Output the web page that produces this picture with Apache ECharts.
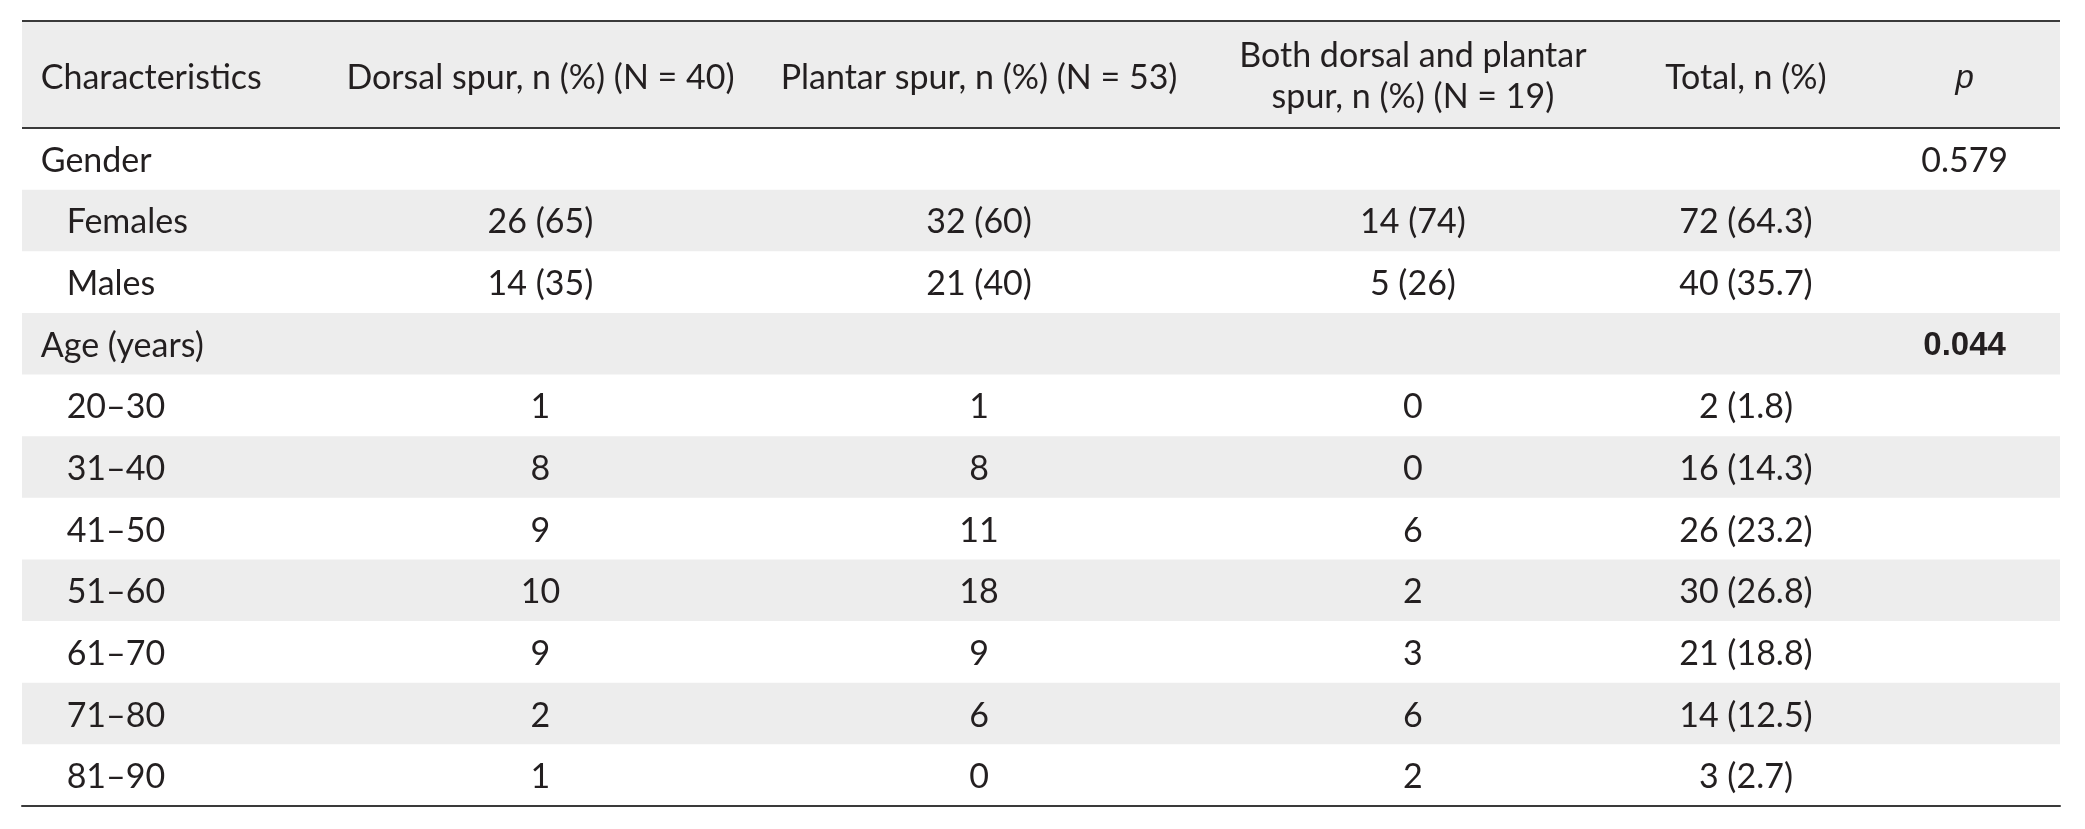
<!DOCTYPE html>
<html>
<head>
<meta charset="utf-8">
<script src="https://cdn.jsdelivr.net/npm/echarts@6/dist/echarts.min.js"></script>
<style>
html,body{margin:0;padding:0;background:#fff;}
#chart{width:2085px;height:829px;}
</style>
</head>
<body>
<div id="chart"></div>
<script>
// ---- data ----
const headers = ['Characteristics', 'Dorsal spur, n (%) (N = 40)', 'Plantar spur, n (%) (N = 53)', 'Both dorsal and plantar\nspur, n (%) (N = 19)', 'Total, n (%)', 'p'];
const rowLabels = ['Gender', 'Females', 'Males', 'Age (years)', '20–30', '31–40', '41–50', '51–60', '61–70', '71–80', '81–90'];
const rowIsGroup = [true, false, false, true, false, false, false, false, false, false, false];
const dorsal  = ['', '26 (65)', '14 (35)', '', '1', '8', '9', '10', '9', '2', '1'];
const plantar = ['', '32 (60)', '21 (40)', '', '1', '8', '11', '18', '9', '6', '0'];
const both    = ['', '14 (74)', '5 (26)', '', '0', '0', '6', '2', '3', '6', '2'];
const total   = ['', '72 (64.3)', '40 (35.7)', '', '2 (1.8)', '16 (14.3)', '26 (23.2)', '30 (26.8)', '21 (18.8)', '14 (12.5)', '3 (2.7)'];
const pValues = ['0.579', '', '', '0.044', '', '', '', '', '', '', ''];
const pBold   = [false, false, false, true, false, false, false, false, false, false, false];
const shaded  = [false, true, false, true, false, true, false, true, false, true, false];

// ---- layout / style ----
const GRID = {left: 22, right: 25, top: 128, bottom: 23};
const TABLE_TOP = 21;
const W = 2085;
const colPct = [0.92, 25.44, 46.96, 68.25, 84.59, 95.32]; // column anchor (% of table width)
const indentPct = 2.19;
const FAMILY = 'Lato';
const TEXT = '#231f20';
const BAND = '#ededed';
const RULE = '#3a3a3a';

function fit(text, family, target) {
  const c = document.createElement('canvas').getContext('2d');
  c.font = '100px ' + family;
  return 100 * target / c.measureText(text).width;
}
const FS = (fit('Characteristics', FAMILY, 219) + fit('Dorsal spur, n (%) (N = 40)', FAMILY, 392)) / 2;

// ---- cells ----
const cells = [];
const cols = [dorsal, plantar, both, total];
rowLabels.forEach((lab, i) => {
  cells.push({x: rowIsGroup[i] ? colPct[0] : indentPct, row: i, text: lab, align: 'left'});
  cols.forEach((arr, c) => {
    if (arr[i] !== '') cells.push({x: colPct[c + 1], row: i, text: arr[i], align: 'center'});
  });
  if (pValues[i] !== '') cells.push({x: colPct[5], row: i, text: pValues[i], align: 'center', bold: pBold[i]});
});

const chart = echarts.init(document.getElementById('chart'), null, {renderer: 'canvas'});

const tableW = W - GRID.left - GRID.right;
const px = p => GRID.left + tableW * p / 100;
const hdrMid = (TABLE_TOP + GRID.top) / 2 + 2;

const graphic = [
  {type: 'rect', shape: {x: GRID.left, y: TABLE_TOP, width: tableW, height: GRID.top - TABLE_TOP}, style: {fill: BAND}, z: 0},
  {type: 'line', shape: {x1: GRID.left, y1: TABLE_TOP, x2: GRID.left + tableW, y2: TABLE_TOP}, style: {stroke: RULE, lineWidth: 2}, z: 10},
  {type: 'line', shape: {x1: GRID.left, y1: GRID.top, x2: GRID.left + tableW, y2: GRID.top}, style: {stroke: RULE, lineWidth: 2}, z: 10}
];
headers.forEach((h, c) => {
  const isP = c === 5;
  const multi = h.indexOf('\n') >= 0;
  graphic.push({
    type: 'text', z: 10,
    style: {
      x: px(colPct[c]), y: hdrMid + (multi ? 0 : 2), text: h,
      align: c === 0 ? 'left' : 'center', verticalAlign: 'middle',
      fill: TEXT,
      fontFamily: isP ? 'Liberation Sans' : FAMILY,
      fontStyle: isP ? 'italic' : 'normal',
      fontSize: isP ? 33 : +FS.toFixed(1),
      lineHeight: 41
    }
  });
});

chart.setOption({
  animation: false,
  backgroundColor: '#fff',
  grid: GRID,
  xAxis: {type: 'value', min: 0, max: 100, show: true, position: 'bottom',
    axisLine: {show: true, onZero: false, lineStyle: {color: RULE, width: 2}},
    axisTick: {show: false}, axisLabel: {show: false}, splitLine: {show: false}},
  yAxis: {type: 'category', data: rowLabels, inverse: true, boundaryGap: true, show: false},
  graphic: graphic,
  series: [
    {
      type: 'custom', z: 1, silent: true,
      data: rowLabels.map((r, i) => [0, i]),
      renderItem: function (params, api) {
        const i = params.dataIndex;
        if (!shaded[i]) return {type: 'group', children: []};
        const a = api.coord([0, i]);
        const b = api.coord([100, i]);
        const h = api.size([0, 1])[1];
        return {type: 'rect', shape: {x: a[0], y: a[1] - h / 2, width: b[0] - a[0], height: h}, style: {fill: BAND}};
      }
    },
    {
      type: 'custom', z: 5, silent: true,
      data: cells.map(c => [c.x, c.row]),
      renderItem: function (params, api) {
        const cell = cells[params.dataIndex];
        const p = api.coord([api.value(0), api.value(1)]);
        return {
          type: 'text',
          style: {
            x: p[0], y: p[1] + 2, text: cell.text,
            align: cell.align, verticalAlign: 'middle',
            fill: TEXT,
            fontFamily: cell.bold ? 'Liberation Sans' : FAMILY,
            fontWeight: cell.bold ? 'bold' : 'normal',
            fontSize: cell.bold ? 33 : +FS.toFixed(1)
          }
        };
      }
    }
  ]
});
</script>
</body>
</html>
